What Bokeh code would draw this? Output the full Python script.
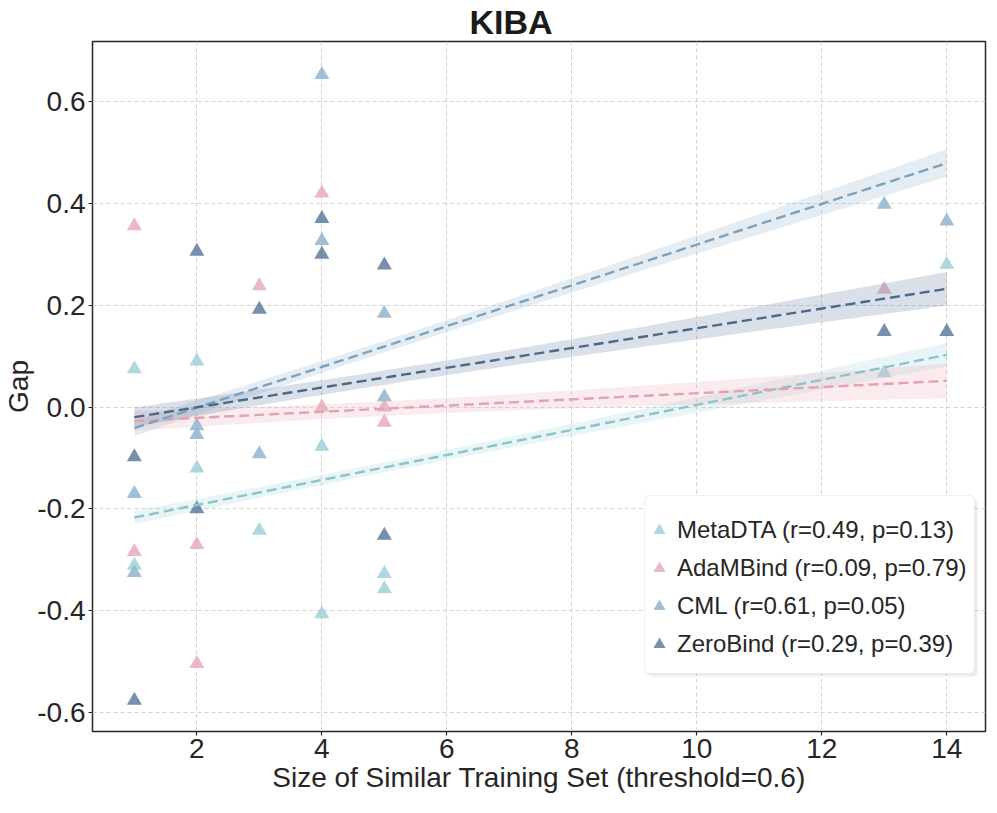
import numpy as np
from bokeh.plotting import figure
from bokeh.models import Legend, LegendItem, FixedTicker, NumeralTickFormatter, BoxAnnotation
from bokeh.embed import file_html
from bokeh.resources import INLINE

# size of the similar training set for each of the 11 targets
sizes = [1, 1, 2, 2, 3, 4, 4, 5, 5, 13, 14]

# gap values per model
meta_dta = [0.075, -0.311, 0.090, -0.120, -0.242, -0.077, -0.406, -0.327, -0.357, 0.067, 0.280]
adam_bind = [0.356, -0.284, -0.270, -0.504, 0.238, 0.420, 0.000, 0.000, -0.030, 0.231, -0.196]
cml = [-0.170, -0.325, -0.037, -0.054, -0.092, 0.653, 0.327, 0.184, 0.020, 0.398, 0.365]
zero_bind = [-0.098, -0.576, 0.306, -0.200, 0.192, 0.370, 0.300, 0.279, -0.252, 0.148, 0.148]

names = ["MetaDTA", "AdaMBind", "CML", "ZeroBind"]
stats = ["(r=0.49, p=0.13)", "(r=0.09, p=0.79)", "(r=0.61, p=0.05)", "(r=0.29, p=0.39)"]
x_ticks = [2, 4, 6, 8, 10, 12, 14]
y_ticks = [-0.6, -0.4, -0.2, 0.0, 0.2, 0.4, 0.6]

point_colors = ["#a6d3db", "#e9b0bc", "#98b9d0", "#6783a2"]
line_colors = ["#8cc4ce", "#e4a1b0", "#7ba3c1", "#4b6a8a"]
band_k = 0.155  # width of the shaded band, in standard errors

FONT = "Liberation Sans"

p = figure(title="KIBA", frame_width=893, frame_height=690,
           x_range=(0.33, 14.62), y_range=(-0.637, 0.718),
           output_backend="svg", toolbar_location=None,
           min_border_left=85, min_border_right=3,
           min_border_top=34, min_border_bottom=70,
           x_axis_label="Size of Similar Training Set (threshold=0.6)",
           y_axis_label="Gap")

p.title.text_font = FONT
p.title.text_font_size = "34px"
p.title.text_font_style = "bold"
p.title.text_color = "#1a1a1a"
p.title.align = "left"
p.title.offset = 377
p.title.standoff = 1

p.outline_line_color = "#262626"
p.outline_line_width = 1.5
p.background_fill_color = "white"

for ax in (p.xaxis[0], p.yaxis[0]):
    ax.axis_line_color = None
    ax.major_tick_line_color = "#262626"
    ax.major_tick_line_width = 1.2
    ax.major_tick_out = 4
    ax.major_tick_in = 0
    ax.minor_tick_line_color = None
    ax.major_label_text_font = FONT
    ax.major_label_text_font_size = "28px"
    ax.major_label_text_color = "#262626"
    ax.axis_label_text_font = FONT
    ax.axis_label_text_font_size = "28px"
    ax.axis_label_text_font_style = "normal"
    ax.axis_label_text_color = "#262626"
    ax.major_label_standoff = 3

p.xaxis.ticker = FixedTicker(ticks=x_ticks)
p.yaxis.ticker = FixedTicker(ticks=y_ticks)
p.yaxis.formatter = NumeralTickFormatter(format="0.0")
p.yaxis.axis_label_standoff = 0
p.xaxis.axis_label_standoff = 1

p.grid.grid_line_color = "#d2d2d2"
p.grid.grid_line_dash = "4 3"
p.grid.grid_line_width = 1

series = [meta_dta, adam_bind, cml, zero_bind]
x = np.array(sizes, dtype=float)
xs = np.linspace(min(sizes), max(sizes), 100)

scatters = []
fits = []
for vals, pc in zip(series, point_colors):
    y = np.array(vals)
    r = p.scatter(x, y, marker="triangle", size=15, fill_color=pc,
                  line_color=None, fill_alpha=0.9)
    scatters.append(r)

    slope, icpt = np.polyfit(x, y, 1)
    fit = icpt + slope * xs
    n = len(x)
    resid = y - (icpt + slope * x)
    s = np.sqrt(np.sum(resid ** 2) / (n - 2))
    se = s * np.sqrt(1 / n + (xs - x.mean()) ** 2 / np.sum((x - x.mean()) ** 2))
    p.varea(x=xs, y1=fit - band_k * se, y2=fit + band_k * se,
            fill_color=pc, fill_alpha=0.25)
    fits.append(fit)

for fit, lc in zip(fits, line_colors):
    p.line(xs, fit, line_color=lc, line_width=2.4, line_dash="10 5")

# legend frame (with a soft shadow), drawn in screen units from the frame's bottom-left
scr = dict(left_units="screen", right_units="screen", top_units="screen", bottom_units="screen")
shadow = BoxAnnotation(left=555, right=885, bottom=55, top=233, fill_color="black",
                       fill_alpha=0.07, line_color=None, border_radius=5, **scr)
box = BoxAnnotation(left=552, right=882, bottom=58, top=236, fill_color="white",
                    fill_alpha=1.0, line_color="#cccccc", line_width=1.2,
                    border_radius=5, **scr)
p.add_layout(shadow)
p.add_layout(box)

items = [LegendItem(label=f"{nm} {st}", renderers=[r])
         for nm, st, r in zip(names, stats, scatters)]
legend = Legend(items=items, location=(552, 72))
legend.label_text_font = FONT
legend.label_text_font_size = "24px"
legend.label_text_color = "#262626"
legend.glyph_width = 30
legend.glyph_height = 30
legend.label_height = 30
legend.label_standoff = 3
legend.spacing = 8
legend.padding = 0
legend.margin = 0
legend.border_line_color = None
legend.background_fill_alpha = 0.0
p.add_layout(legend, "center")

open("out.html", "w").write(file_html(p, INLINE))
